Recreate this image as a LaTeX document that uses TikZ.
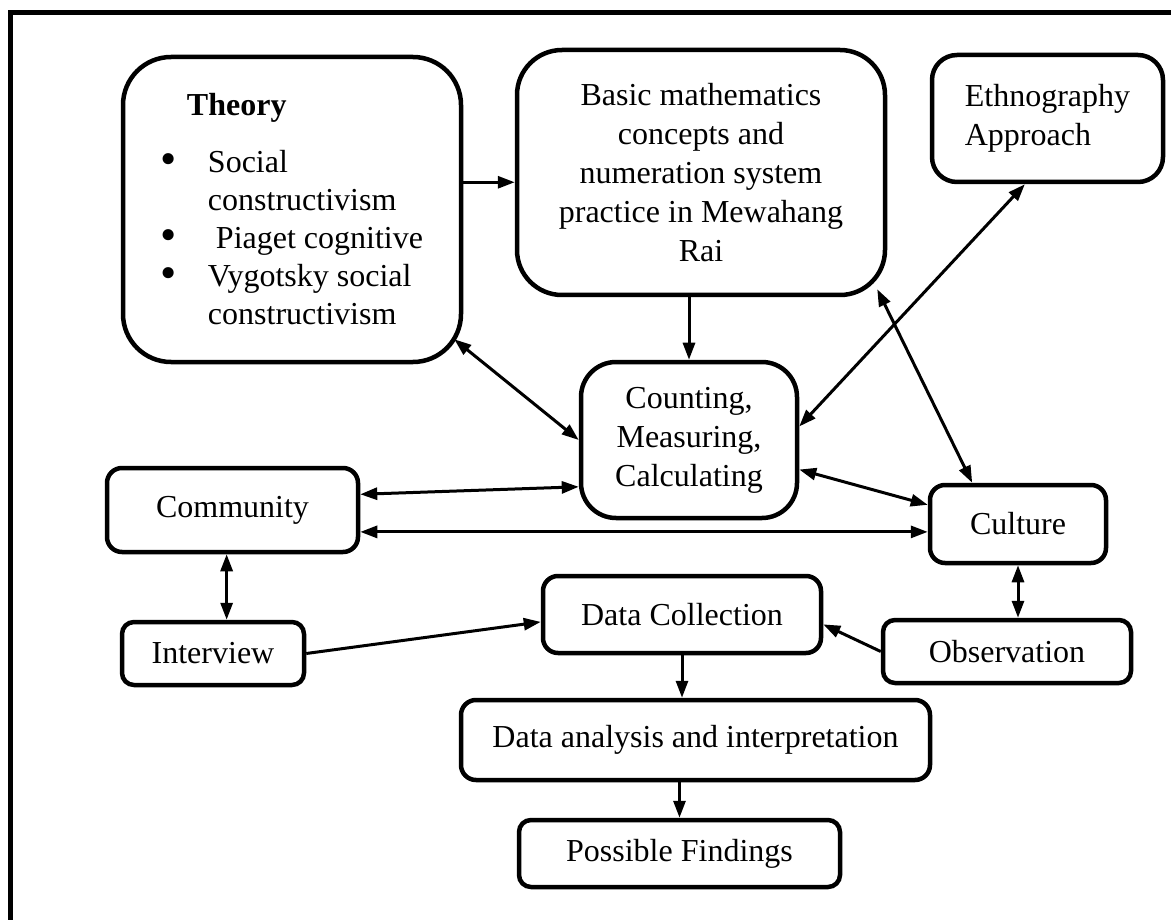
\documentclass[tikz,border=0pt]{standalone}
\usepackage{fontspec}
\setmainfont{Liberation Serif}
\usetikzlibrary{arrows.meta,calc}
\newcommand{\bigdot}{\makebox[47pt][l]{\raisebox{-1.5pt}{\scalebox{1.45}{\textbullet}}}}
\begin{document}
\begin{tikzpicture}[x=1pt,y=1pt,
    box/.style={draw,line width=4.5pt,inner sep=0pt,align=center,
                font=\fontsize{32}{39}\selectfont},
    link/.style={line width=3pt,-{Triangle[length=17pt,width=12pt]}},
    twin/.style={line width=3pt,{Triangle[length=17pt,width=12pt]}-{Triangle[length=17pt,width=12pt]}}]

\clip (0,0) rectangle (1171,-920);
\draw[line width=5pt] (10,-12.5) rectangle (1200,-960);

\node[box,rounded corners=48pt,minimum width=338pt,minimum height=305pt,
      align=left,font=\fontsize{32}{38}\selectfont]
      (theory) at (292,-209.5)
    {\hspace*{26pt}\textbf{Theory}\\[19pt]
     \bigdot Social\\
     \hspace*{47pt}constructivism\\
     \bigdot\ Piaget cognitive\\
     \bigdot Vygotsky social\\
     \hspace*{47pt}constructivism};
\node[box,rounded corners=45pt,minimum width=368pt,minimum height=245pt]
      (basic) at (701,-172.5)
    {Basic mathematics\\concepts and\\numeration system\\practice in Mewahang\\Rai};
\node[box,rounded corners=25pt,minimum width=231pt,minimum height=127pt,align=left]
      (ethno) at (1047.5,-118.5) {Ethnography\\Approach};
\node[box,rounded corners=35pt,minimum width=216pt,minimum height=156pt]
      (counting) at (689,-440) {Counting,\\Measuring,\\Calculating};
\node[box,rounded corners=15pt,minimum width=251pt,minimum height=84pt]
      (community) at (232.5,-510) {Community};
\node[box,rounded corners=15pt,minimum width=176pt,minimum height=78pt]
      (culture) at (1018,-524) {Culture};
\node[box,rounded corners=12pt,minimum width=182pt,minimum height=63pt]
      (interview) at (213,-653.5) {Interview};
\node[box,rounded corners=15pt,minimum width=278pt,minimum height=77pt]
      (datacoll) at (682,-614.5) {Data Collection};
\node[box,rounded corners=12pt,minimum width=248pt,minimum height=63pt]
      (observation) at (1007,-651.5) {Observation};
\node[box,rounded corners=15pt,minimum width=469pt,minimum height=80pt]
      (analysis) at (695.5,-740) {Data analysis and interpretation};
\node[box,rounded corners=12pt,minimum width=321pt,minimum height=67pt]
      (findings) at (679.5,-853.5) {Possible Findings};

\draw[link] (theory.east |- basic.183) -- (basic.183);
\draw[link] (basic.south -| counting.north) -- (counting.north);
\draw[twin] ($(theory.south east)+(-9,25)$) -- (counting.west);
\draw[twin] (ethno.251) -- (counting.7);
\draw[twin] ($(basic.south east)+(-10,8)$) -- (culture.138);
\draw[twin] (community.7) -- (counting.203);
\draw[twin] (community.east |- culture.185) -- (culture.185);
\draw[twin] (counting.-15) -- (culture.168);
\draw[twin] (community.south -| interview.68) -- (interview.68);
\draw[link] (interview.east) -- (datacoll.183);
\draw[link] (observation.west) -- (datacoll.-4);
\draw[twin] (culture.south) -- (culture.south |- observation.north);
\draw[link] (datacoll.south) -- (datacoll.south |- analysis.north);
\draw[link] (findings.north |- analysis.south) -- (findings.north);

\end{tikzpicture}
\end{document}
